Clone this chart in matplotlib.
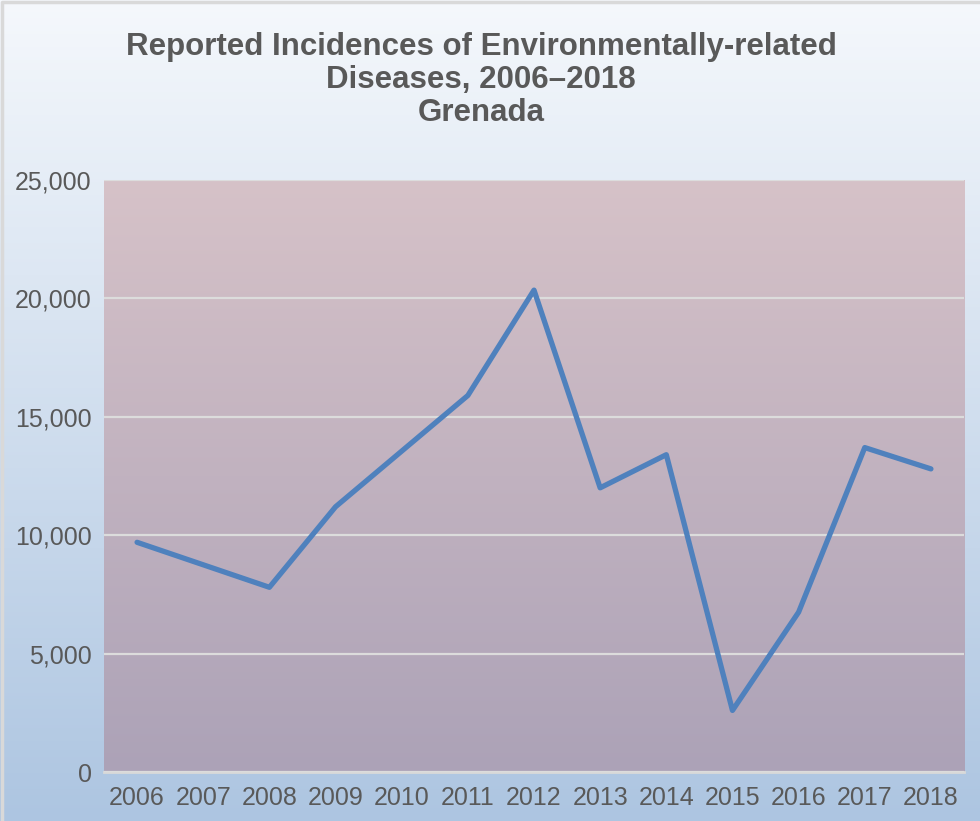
import matplotlib.pyplot as plt
import numpy as np
from matplotlib.colors import LinearSegmentedColormap
from matplotlib.ticker import FuncFormatter

# Reported incidences by year
years = ['2006', '2007', '2008', '2009', '2010', '2011', '2012',
         '2013', '2014', '2015', '2016', '2017', '2018']
incidences = [9700, 8750, 7800, 11200, 13550, 15900, 20350,
              12000, 13400, 2600, 6750, 13700, 12800]

plt.rcParams['font.family'] = ['Liberation Sans', 'DejaVu Sans']

fig = plt.figure(figsize=(9.8, 8.21), dpi=100)

# figure background gradient
bg = fig.add_axes([0, 0, 1, 1], zorder=-10)
bg_cmap = LinearSegmentedColormap.from_list('bg', ['#adc5e1', '#f5f8fc'])
bg.imshow(np.linspace(0, 1, 256).reshape(-1, 1), aspect='auto', cmap=bg_cmap,
          origin='lower', extent=[0, 1, 0, 1])
bg.plot([0.002, 0.002, 1], [0, 0.997, 0.997], color='#d9d9d9', lw=2.5)
bg.set_xlim(0, 1)
bg.set_ylim(0, 1)
bg.axis('off')

W, H = 980, 821
left, right, top, bottom = 104, 964, 180, 772
ax = fig.add_axes([left / W, 1 - bottom / H, (right - left) / W, (bottom - top) / H])
ax.set_facecolor('none')

# plot area gradient
pa_cmap = LinearSegmentedColormap.from_list('pa', ['#aca2b7', '#d6c2c8'])
ax.imshow(np.linspace(0, 1, 256).reshape(-1, 1), aspect='auto', cmap=pa_cmap,
          origin='lower', extent=[-0.5, len(years) - 0.5, 0, 25000], zorder=0)

x = np.arange(len(years))
ax.plot(x, incidences, color='#4f81bd', lw=3.8, solid_joinstyle='round',
        solid_capstyle='round', zorder=3)

ax.set_xlim(-0.5, len(years) - 0.5)
ax.set_ylim(0, 25000)
ax.set_yticks(np.arange(0, 25001, 5000))
ax.yaxis.set_major_formatter(FuncFormatter(lambda v, p: f'{int(v):,}'))
ax.set_xticks(x)
ax.set_xticklabels(years)
ax.grid(axis='y', color='#dcdcdc', lw=1.6, zorder=1)
ax.set_axisbelow(False)
for s in ['left', 'right', 'top']:
    ax.spines[s].set_visible(False)
ax.spines['bottom'].set_color('#d9d9d9')
ax.spines['bottom'].set_linewidth(2)
ax.tick_params(length=0, labelsize=18, colors='#595959', pad=10)
ax.tick_params(axis='y', pad=9)

fig.text(0.491, 1 - 80 / H, 'Reported Incidences of Environmentally-related\nDiseases, 2006\u20132018\nGrenada',
         ha='center', va='center', fontsize=22.5, fontweight='bold', color='#595959',
         linespacing=1.12)

fig.savefig('out.png', dpi=100)
